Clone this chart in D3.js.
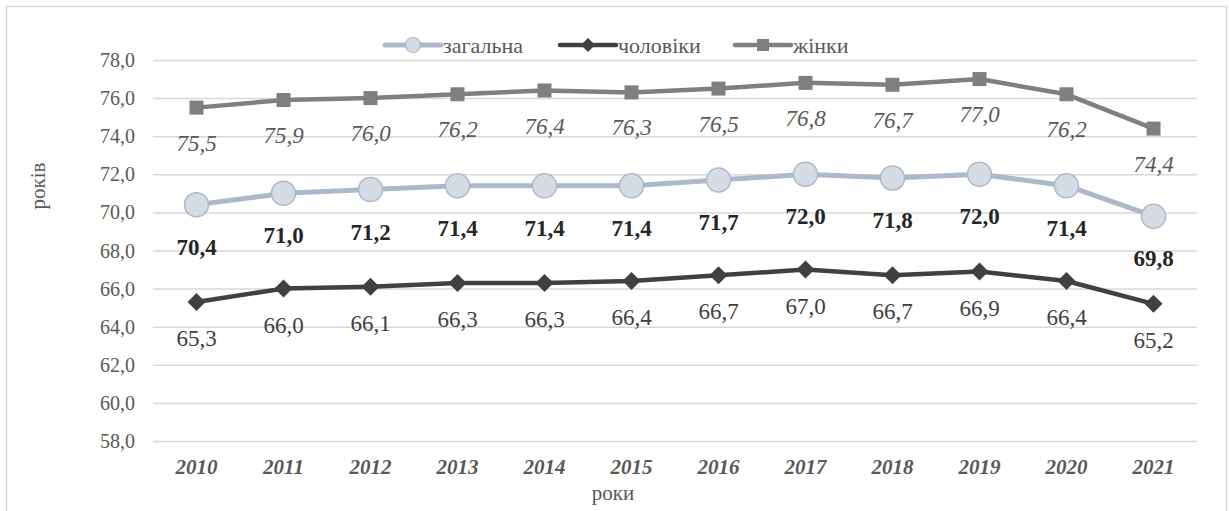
<!DOCTYPE html>
<html>
<head>
<meta charset="utf-8">
<script src="https://cdn.jsdelivr.net/npm/d3@7"></script>
<style>
  body { margin: 0; background: #fff; }
</style>
</head>
<body>
<svg id="chart" width="1229" height="511"></svg>
<script>
// years on the x axis
var years = ['2010', '2011', '2012', '2013', '2014', '2015', '2016', '2017', '2018', '2019', '2020', '2021'];
// life expectancy, years
var total = [70.4, 71.0, 71.2, 71.4, 71.4, 71.4, 71.7, 72.0, 71.8, 72.0, 71.4, 69.8];
var men = [65.3, 66.0, 66.1, 66.3, 66.3, 66.4, 66.7, 67.0, 66.7, 66.9, 66.4, 65.2];
var women = [75.5, 75.9, 76.0, 76.2, 76.4, 76.3, 76.5, 76.8, 76.7, 77.0, 76.2, 74.4];
var yTicks = [58, 60, 62, 64, 66, 68, 70, 72, 74, 76, 78];

var SERIF = 'Liberation Serif';
var svg = d3.select('#chart');
var fmt = function(v) { return v.toFixed(1).replace('.', ','); };

// frame
svg.append('path')
  .attr('d', 'M6.5,520 V6.5 H1226.5 V520')
  .attr('fill', 'none')
  .attr('stroke', '#d9d9d9')
  .attr('stroke-width', 1.5);

var x = d3.scaleBand().domain(years).range([153, 1197]);
var y = d3.scaleLinear().domain([58, 78]).range([441, 60]);
var cx = function(d, i) { return x(years[i]) + x.bandwidth() / 2; };

// grid
svg.append('g').selectAll('line').data(yTicks).enter().append('line')
  .attr('x1', 153).attr('x2', 1197)
  .attr('y1', function(d) { return y(d) + 0.5; })
  .attr('y2', function(d) { return y(d) + 0.5; })
  .attr('stroke', '#d9d9d9').attr('stroke-width', 1.5);

// y tick labels
svg.append('g').selectAll('text').data(yTicks).enter().append('text')
  .attr('x', 135).attr('y', function(d) { return y(d); })
  .attr('dy', '0.35em')
  .attr('text-anchor', 'end')
  .attr('font-family', SERIF)
  .attr('font-size', 20)
  .attr('fill', '#595959')
  .text(fmt);

// x tick labels
svg.append('g').selectAll('text').data(years).enter().append('text')
  .attr('x', function(d) { return x(d) + x.bandwidth() / 2; })
  .attr('y', 474)
  .attr('text-anchor', 'middle')
  .attr('font-family', SERIF)
  .attr('font-size', 21)
  .attr('font-weight', 'bold')
  .attr('font-style', 'italic')
  .attr('fill', '#595959')
  .text(function(d) { return d; });

// axis titles
svg.append('text')
  .attr('x', 613).attr('y', 500)
  .attr('text-anchor', 'middle')
  .attr('font-family', SERIF)
  .attr('font-size', 21)
  .attr('fill', '#595959')
  .text('роки');
svg.append('text')
  .attr('transform', 'translate(45,186) rotate(-90)')
  .attr('text-anchor', 'middle')
  .attr('font-family', SERIF)
  .attr('font-size', 21)
  .attr('fill', '#595959')
  .text('років');

var line = d3.line().x(cx).y(function(d) { return y(d); });

function drawSeries(data, color, width) {
  svg.append('path')
    .datum(data)
    .attr('d', line)
    .attr('fill', 'none')
    .attr('stroke', color)
    .attr('stroke-width', width)
    .attr('stroke-linejoin', 'round');
}

drawSeries(women, '#7f7f7f', 4.5);
drawSeries(men, '#404040', 4.5);
drawSeries(total, '#adb9ca', 5);

// markers
svg.append('g').selectAll('rect').data(women).enter().append('rect')
  .attr('x', function(d, i) { return cx(d, i) - 7; })
  .attr('y', function(d) { return y(d) - 7; })
  .attr('width', 14).attr('height', 14)
  .attr('fill', '#7f7f7f');

svg.append('g').selectAll('path').data(men).enter().append('path')
  .attr('transform', function(d, i) { return 'translate(' + cx(d, i) + ',' + y(d) + ')'; })
  .attr('d', 'M0,-9 L9,0 L0,9 L-9,0 Z')
  .attr('fill', '#404040');

svg.append('g').selectAll('circle').data(total).enter().append('circle')
  .attr('cx', cx)
  .attr('cy', function(d) { return y(d); })
  .attr('r', 12)
  .attr('fill', '#d6dce5')
  .attr('stroke', '#adb9ca')
  .attr('stroke-width', 1.5);

// data labels
function labels(data, dy, opts) {
  svg.append('g').selectAll('text').data(data).enter().append('text')
    .attr('x', cx)
    .attr('y', function(d) { return y(d) + dy; })
    .attr('dy', '0.35em')
    .attr('text-anchor', 'middle')
    .attr('font-family', SERIF)
    .attr('font-size', 23)
    .attr('font-style', opts.italic ? 'italic' : 'normal')
    .attr('font-weight', opts.bold ? 'bold' : 'normal')
    .attr('fill', opts.color)
    .text(fmt);
}
labels(women, 35, { italic: true, color: '#595959' });
labels(total, 42, { bold: true, color: '#262626' });
labels(men, 36, { color: '#404040' });

// legend
var legend = [
  { name: 'загальна', x: 385, type: 'circle', color: '#adb9ca' },
  { name: 'чоловіки', x: 560, type: 'diamond', color: '#404040' },
  { name: 'жінки', x: 735, type: 'square', color: '#7f7f7f' }
];
var lg = svg.append('g').selectAll('g').data(legend).enter().append('g')
  .attr('transform', function(d) { return 'translate(' + d.x + ',45)'; });
lg.append('line')
  .attr('x1', 0).attr('x2', 56)
  .attr('stroke', function(d) { return d.color; })
  .attr('stroke-width', function(d) { return d.type === 'circle' ? 5 : 4.5; })
  .attr('stroke-linecap', 'round');
lg.each(function(d) {
  var g = d3.select(this);
  if (d.type === 'circle') {
    g.append('circle').attr('cx', 28).attr('r', 7.5)
      .attr('fill', '#d6dce5').attr('stroke', '#adb9ca').attr('stroke-width', 1.2);
  } else if (d.type === 'diamond') {
    g.append('path').attr('d', 'M28,-7 L35,0 L28,7 L21,0 Z').attr('fill', d.color);
  } else {
    g.append('rect').attr('x', 22).attr('y', -6).attr('width', 12).attr('height', 12).attr('fill', d.color);
  }
});
lg.append('text')
  .attr('x', 58).attr('dy', '0.35em')
  .attr('font-family', SERIF)
  .attr('font-size', 22)
  .attr('fill', '#595959')
  .text(function(d) { return d.name; });
</script>
</body>
</html>
